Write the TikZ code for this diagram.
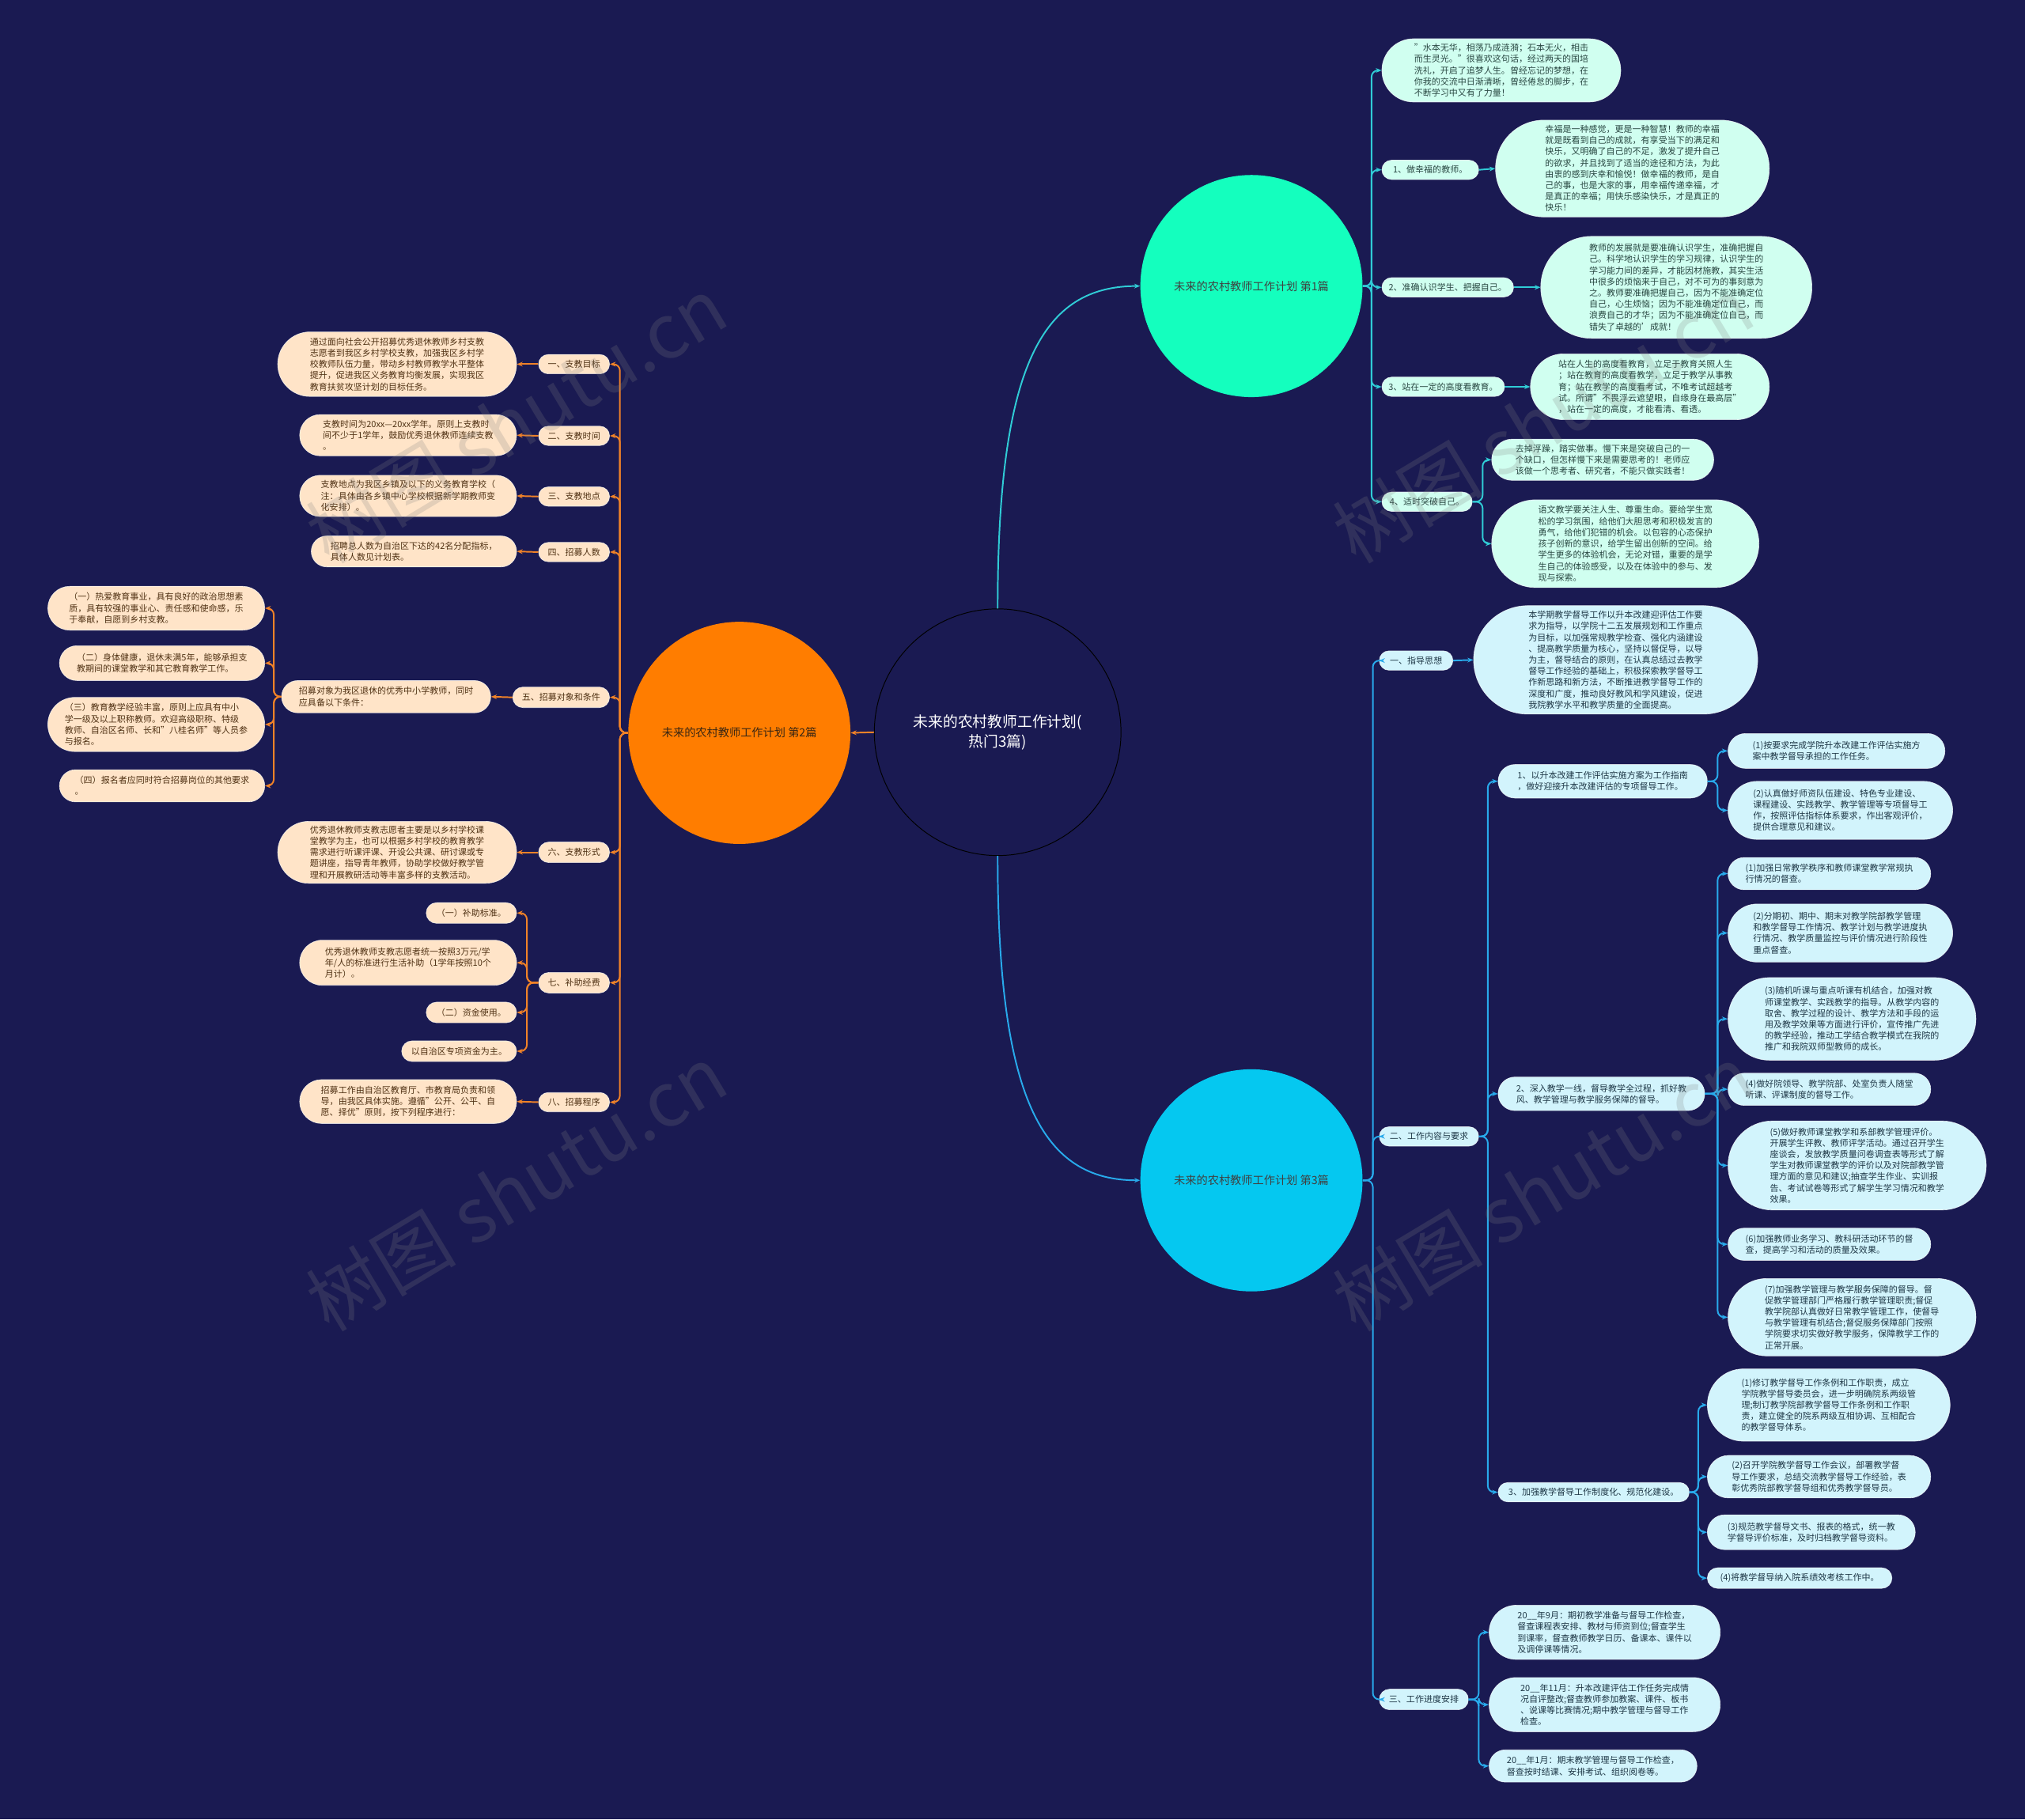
\documentclass[tikz,border=0pt]{standalone}
\usepackage{fontspec}
\setmainfont{Noto Sans CJK SC}
\usetikzlibrary{arrows.meta}
\definecolor{bg}{RGB}{26,26,82}
\definecolor{cA}{RGB}{20,255,190}
\definecolor{cB}{RGB}{5,200,240}
\definecolor{cC}{RGB}{255,125,0}
\definecolor{lA}{RGB}{48,204,214}
\definecolor{lB}{RGB}{40,170,235}
\definecolor{lC}{RGB}{240,130,40}
\definecolor{fA}{RGB}{208,255,240}
\definecolor{tA}{RGB}{40,70,65}
\definecolor{fB}{RGB}{210,244,252}
\definecolor{tB}{RGB}{30,55,70}
\definecolor{fC}{RGB}{255,228,200}
\definecolor{tC}{RGB}{80,50,20}
\newcommand\fsleaf{\fontsize{6.75pt}{8.7pt}\selectfont}
\newcommand\fscirc{\fontsize{8.7pt}{10pt}\selectfont}
\newcommand\fsroot{\fontsize{11.5pt}{15pt}\selectfont}
\newcommand\fswm{\fontsize{58pt}{58pt}\selectfont}
\newcommand\rconn[4]{\draw[#1] (#2.east) -| (#4 |- #3.west) -- (#3.west);}
\newcommand\lconn[4]{\draw[#1] (#2.west) -| (#4 |- #3.east) -- (#3.east);}
\tikzset{
  sz/.style 2 args={minimum width=#1pt, minimum height=#2pt, rounded corners=#2*0.5pt},
  boxbase/.style={inner sep=0pt, align=left, font=\fsleaf, draw=white, draw opacity=0.7, line width=0.4pt},
  leafA/.style={boxbase, fill=fA, text=tA},
  leafB/.style={boxbase, fill=fB, text=tB},
  leafC/.style={boxbase, fill=fC, text=tC},
  lnA/.style={draw=lA, line width=1.2pt, rounded corners=5pt, -{Stealth[length=4.5pt,width=3.6pt]}},
  lnB/.style={draw=lB, line width=1.2pt, rounded corners=5pt, -{Stealth[length=4.5pt,width=3.6pt]}},
  lnC/.style={draw=lC, line width=1.2pt, rounded corners=5pt, -{Stealth[length=4.5pt,width=3.6pt]}},
  wm/.style={rotate=31, font=\fswm, text=gray, opacity=0.22},
}
\begin{document}
\begin{tikzpicture}[x=1pt,y=-1pt]
\fill[bg] (0,0) rectangle (1568,1409);
\useasboundingbox (0,0) rectangle (1568,1409);

% ---------- main nodes ----------
\node[circle, draw=black, line width=0.6pt, fill=bg, minimum size=191pt, inner sep=0pt, text=white, align=center, font=\fsroot] (root) at (772.5,567) {未来的农村教师工作计划(\\热门3篇)};
\node[circle, fill=cA, minimum size=172pt, inner sep=0pt, text=black!75, font=\fscirc] (pA) at (969,221.5) {未来的农村教师工作计划 第1篇};
\node[circle, fill=cB, minimum size=172pt, inner sep=0pt, text=black!75, font=\fscirc] (pB) at (969,914) {未来的农村教师工作计划 第3篇};
\node[circle, fill=cC, minimum size=172pt, inner sep=0pt, text=black!70!brown, font=\fscirc] (pC) at (572.5,567.5) {未来的农村教师工作计划 第2篇};

% ---------- branch 1 ----------
\node[leafA, sz={185}{49}] (a0) at (1162.5,54.5) {"水本无华，相荡乃成涟漪；石本无火，相击\\而生灵光。"很喜欢这句话，经过两天的国培\\洗礼，开启了追梦人生。曾经忘记的梦想，在\\你我的交流中日渐清晰，曾经倦怠的脚步，在\\不断学习中又有了力量！};
\node[leafA, sz={75}{15}] (a1) at (1107.5,131.5) {1、做幸福的教师。};
\node[leafA, sz={212}{75}] (a1l) at (1264,130.5) {幸福是一种感觉，更是一种智慧！教师的幸福\\就是既看到自己的成就，有享受当下的满足和\\快乐，又明确了自己的不足，激发了提升自己\\的欲求，并且找到了适当的途径和方法，为此\\由衷的感到庆幸和愉悦！做幸福的教师，是自\\己的事，也是大家的事，用幸福传递幸福，才\\是真正的幸福；用快乐感染快乐，才是真正的\\快乐！};
\node[leafA, sz={102}{15}] (a2) at (1121,222.5) {2、准确认识学生、把握自己。};
\node[leafA, sz={210}{79}] (a2l) at (1298,222.5) {教师的发展就是要准确认识学生，准确把握自\\己。科学地认识学生的学习规律，认识学生的\\学习能力间的差异，才能因材施教，其实生活\\中很多的烦恼来于自己，对不可为的事刻意为\\之。教师要准确把握自己，因为不能准确定位\\自己，心生烦恼；因为不能准确定位自己，而\\浪费自己的才华；因为不能准确定位自己，而\\错失了卓越的'成就！};
\node[leafA, sz={95}{15}] (a3) at (1117.5,299.5) {3、站在一定的高度看教育。};
\node[leafA, sz={185}{51}] (a3l) at (1277.5,299.5) {站在人生的高度看教育，立足于教育关照人生\\；站在教育的高度看教学，立足于教学从事教\\育；站在教学的高度看考试，不唯考试超越考\\试。所谓"不畏浮云遮望眼，自缘身在最高层"\\，站在一定的高度，才能看清、看透。};
\node[leafA, sz={70}{15}] (a4) at (1105,388.5) {4、适时突破自己。};
\node[leafA, sz={172}{32}] (a4a) at (1241,356) {去掉浮躁，踏实做事。慢下来是突破自己的一\\个缺口，但怎样慢下来是需要思考的！老师应\\该做一个思考者、研究者，不能只做实践者！};
\node[leafA, sz={207}{68}] (a4b) at (1258.5,421) {语文教学要关注人生、尊重生命。要给学生宽\\松的学习氛围，给他们大胆思考和积极发言的\\勇气，给他们犯错的机会。以包容的心态保护\\孩子创新的意识，给学生留出创新的空间。给\\学生更多的体验机会，无论对错，重要的是学\\生自己的体验感受，以及在体验中的参与、发\\现与探索。};

% ---------- branch 3 ----------
\node[leafB, sz={57}{15}] (b1) at (1096.5,511.5) {一、指导思想};
\node[leafB, sz={220}{84}] (b1l) at (1251,511) {本学期教学督导工作以升本改建迎评估工作要\\求为指导，以学院十二五发展规划和工作重点\\为目标，以加强常规教学检查、强化内涵建设\\、提高教学质量为核心，坚持以督促导，以导\\为主，督导结合的原则，在认真总结过去教学\\督导工作经验的基础上，积极探索教学督导工\\作新思路和新方法，不断推进教学督导工作的\\深度和广度，推动良好教风和学风建设，促进\\我院教学水平和教学质量的全面提高。};
\node[leafB, sz={77}{15}] (b2) at (1106.5,880) {二、工作内容与要求};
\node[leafB, sz={162}{26}] (b21) at (1241,605) {1、以升本改建工作评估实施方案为工作指南\\，做好迎接升本改建评估的专项督导工作。};
\node[leafB, sz={168}{27}] (b21a) at (1422,581.5) {(1)按要求完成学院升本改建工作评估实施方\\案中教学督导承担的工作任务。};
\node[leafB, sz={174}{45}] (b21b) at (1425,627.5) {(2)认真做好师资队伍建设、特色专业建设、\\课程建设、实践教学、教学管理等专项督导工\\作，按照评估指标体系要求，作出客观评价，\\提供合理意见和建议。};
\node[leafB, sz={160}{26}] (b22) at (1240,847) {2、深入教学一线，督导教学全过程，抓好教\\风、教学管理与教学服务保障的督导。};
\node[leafB, sz={157}{25}] (b22a) at (1416.5,676.5) {(1)加强日常教学秩序和教师课堂教学常规执\\行情况的督查。};
\node[leafB, sz={174}{45}] (b22b) at (1425,722.5) {(2)分期初、期中、期末对教学院部教学管理\\和教学督导工作情况、教学计划与教学进度执\\行情况、教学质量监控与评价情况进行阶段性\\重点督查。};
\node[leafB, sz={192}{64}] (b22c) at (1434,789) {(3)随机听课与重点听课有机结合，加强对教\\师课堂教学、实践教学的指导。从教学内容的\\取舍、教学过程的设计、教学方法和手段的运\\用及教学效果等方面进行评价，宣传推广先进\\的教学经验，推动工学结合教学模式在我院的\\推广和我院双师型教师的成长。};
\node[leafB, sz={157}{25}] (b22d) at (1416.5,843.5) {(4)做好院领导、教学院部、处室负责人随堂\\听课、评课制度的督导工作。};
\node[leafB, sz={200}{69}] (b22e) at (1438,902.5) {(5)做好教师课堂教学和系部教学管理评价。\\开展学生评教、教师评学活动。通过召开学生\\座谈会，发放教学质量问卷调查表等形式了解\\学生对教师课堂教学的评价以及对院部教学管\\理方面的意见和建议;抽查学生作业、实训报\\告、考试试卷等形式了解学生学习情况和教学\\效果。};
\node[leafB, sz={157}{25}] (b22f) at (1416.5,963.5) {(6)加强教师业务学习、教科研活动环节的督\\查，提高学习和活动的质量及效果。};
\node[leafB, sz={192}{60}] (b22g) at (1434,1020) {(7)加强教学管理与教学服务保障的督导。督\\促教学管理部门严格履行教学管理职责;督促\\教学院部认真做好日常教学管理工作，使督导\\与教学管理有机结合;督促服务保障部门按照\\学院要求切实做好教学服务，保障教学工作的\\正常开展。};
\node[leafB, sz={148}{15}] (b23) at (1234,1155.5) {3、加强教学督导工作制度化、规范化建设。};
\node[leafB, sz={188}{56}] (b23a) at (1416,1088) {(1)修订教学督导工作条例和工作职责，成立\\学院教学督导委员会，进一步明确院系两级管\\理;制订教学院部教学督导工作条例和工作职\\责，建立健全的院系两级互相协调、互相配合\\的教学督导体系。};
\node[leafB, sz={173}{33}] (b23b) at (1408.5,1143.5) {(2)召开学院教学督导工作会议，部署教学督\\导工作要求，总结交流教学督导工作经验，表\\彰优秀院部教学督导组和优秀教学督导员。};
\node[leafB, sz={161}{27}] (b23c) at (1402.5,1186.5) {(3)规范教学督导文书、报表的格式，统一教\\学督导评价标准，及时归档教学督导资料。};
\node[leafB, sz={143}{16}] (b23d) at (1393.5,1222) {(4)将教学督导纳入院系绩效考核工作中。};
\node[leafB, sz={69}{16}] (b3) at (1102.5,1316) {三、工作进度安排};
\node[leafB, sz={179}{42}] (b3a) at (1242.5,1264) {20\_\_年9月：期初教学准备与督导工作检查，\\督查课程表安排、教材与师资到位;督查学生\\到课率，督查教师教学日历、备课本、课件以\\及调停课等情况。};
\node[leafB, sz={179}{42}] (b3b) at (1242.5,1320) {20\_\_年11月：升本改建评估工作任务完成情\\况自评整改;督查教师参加教案、课件、板书\\、说课等比赛情况;期中教学管理与督导工作\\检查。};
\node[leafB, sz={161}{25}] (b3c) at (1233.5,1367.5) {20\_\_年1月：期末教学管理与督导工作检查，\\督查按时结课、安排考试、组织阅卷等。};

% ---------- branch 2 ----------
\node[leafC, sz={55}{15}] (c1) at (444.5,282) {一、支教目标};
\node[leafC, sz={185}{50}] (c1l) at (307.5,282) {通过面向社会公开招募优秀退休教师乡村支教\\志愿者到我区乡村学校支教，加强我区乡村学\\校教师队伍力量，带动乡村教师教学水平整体\\提升，促进我区义务教育均衡发展，实现我区\\教育扶贫攻坚计划的目标任务。};
\node[leafC, sz={55}{15}] (c2) at (444.5,337.5) {二、支教时间};
\node[leafC, sz={168}{32}] (c2l) at (316,337) {支教时间为20xx—20xx学年。原则上支教时\\间不少于1学年，鼓励优秀退休教师连续支教\\。};
\node[leafC, sz={55}{15}] (c3) at (444.5,384.5) {三、支教地点};
\node[leafC, sz={168}{32}] (c3l) at (316,384) {支教地点为我区乡镇及以下的义务教育学校（\\注：具体由各乡镇中心学校根据新学期教师变\\化安排）。};
\node[leafC, sz={55}{15}] (c4) at (444.5,427.5) {四、招募人数};
\node[leafC, sz={159}{24}] (c4l) at (320.5,427) {招聘总人数为自治区下达的42名分配指标，\\具体人数见计划表。};
\node[leafC, sz={75}{16}] (c5) at (434.5,540) {五、招募对象和条件};
\node[leafC, sz={162}{25}] (c5l) at (299,539.5) {招募对象为我区退休的优秀中小学教师，同时\\应具备以下条件：};
\node[leafC, sz={168}{34}] (c5a) at (121,471) {（一）热爱教育事业，具有良好的政治思想素\\质，具有较强的事业心、责任感和使命感，乐\\于奉献，自愿到乡村支教。};
\node[leafC, sz={159}{27}] (c5b) at (125.5,513.5) {（二）身体健康，退休未满5年，能够承担支\\教期间的课堂教学和其它教育教学工作。};
\node[leafC, sz={168}{42}] (c5c) at (121,561) {（三）教育教学经验丰富，原则上应具有中小\\学一级及以上职称教师。欢迎高级职称、特级\\教师、自治区名师、长和"八桂名师"等人员参\\与报名。};
\node[leafC, sz={159}{25}] (c5d) at (125.5,608.5) {（四）报名者应同时符合招募岗位的其他要求\\。};
\node[leafC, sz={55}{16}] (c6) at (444.5,660) {六、支教形式};
\node[leafC, sz={185}{48}] (c6l) at (307.5,660) {优秀退休教师支教志愿者主要是以乡村学校课\\堂教学为主，也可以根据乡村学校的教育教学\\需求进行听课评课、开设公共课、研讨课或专\\题讲座，指导青年教师，协助学校做好教学管\\理和开展教研活动等丰富多样的支教活动。};
\node[leafC, sz={55}{16}] (c7) at (444.5,761) {七、补助经费};
\node[leafC, sz={70}{16}] (c7a) at (365,707) {（一）补助标准。};
\node[leafC, sz={168}{35}] (c7b) at (316,745.5) {优秀退休教师支教志愿者统一按照3万元/学\\年/人的标准进行生活补助（1学年按照10个\\月计）。};
\node[leafC, sz={70}{16}] (c7c) at (365,784) {（二）资金使用。};
\node[leafC, sz={89}{16}] (c7d) at (355.5,814) {以自治区专项资金为主。};
\node[leafC, sz={55}{15}] (c8) at (444.5,853.5) {八、招募程序};
\node[leafC, sz={168}{34}] (c8l) at (316,853) {招募工作由自治区教育厅、市教育局负责和领\\导，由我区具体实施。遵循"公开、公平、自\\愿、择优"原则，按下列程序进行：};

% ---------- spine coordinates ----------
\coordinate (sA) at (1062,0);
\coordinate (sA4) at (1148,0);
\coordinate (sB) at (1063,0);
\coordinate (sB2) at (1152,0);
\coordinate (sB21) at (1330,0);
\coordinate (sB23) at (1315,0);
\coordinate (sB3) at (1145,0);
\coordinate (sC) at (480,0);
\coordinate (sC5) at (212,0);
\coordinate (sC7) at (408,0);

% ---------- connectors ----------
\draw[lnA] (root.north) .. controls +(0,-190) and +(-75,0) .. (pA.west);
\draw[lnB] (root.south) .. controls +(0,190) and +(-75,0) .. (pB.west);
\draw[lnC] (root.west) -- (pC.east);

\foreach \c in {a0,a1,a2,a3,a4} {\rconn{lnA}{pA}{\c}{sA}}
\draw[lnA] (a1.east) -- (a1l.west);
\draw[lnA] (a2.east) -- (a2l.west);
\draw[lnA] (a3.east) -- (a3l.west);
\foreach \c in {a4a,a4b} {\rconn{lnA}{a4}{\c}{sA4}}

\foreach \c in {b1,b2,b3} {\rconn{lnB}{pB}{\c}{sB}}
\draw[lnB] (b1.east) -- (b1l.west);
\foreach \c in {b21,b22,b23} {\rconn{lnB}{b2}{\c}{sB2}}
\foreach \c in {b21a,b21b} {\rconn{lnB}{b21}{\c}{sB21}}
\foreach \c in {b22a,b22b,b22c,b22d,b22e,b22f,b22g} {\rconn{lnB}{b22}{\c}{sB21}}
\foreach \c in {b23a,b23b,b23c,b23d} {\rconn{lnB}{b23}{\c}{sB23}}
\foreach \c in {b3a,b3b,b3c} {\rconn{lnB}{b3}{\c}{sB3}}

\foreach \c in {c1,c2,c3,c4,c5,c6,c7,c8} {\lconn{lnC}{pC}{\c}{sC}}
\draw[lnC] (c1.west) -- (c1l.east);
\draw[lnC] (c2.west) -- (c2l.east);
\draw[lnC] (c3.west) -- (c3l.east);
\draw[lnC] (c4.west) -- (c4l.east);
\draw[lnC] (c5.west) -- (c5l.east);
\draw[lnC] (c6.west) -- (c6l.east);
\draw[lnC] (c8.west) -- (c8l.east);
\foreach \c in {c5a,c5b,c5c,c5d} {\lconn{lnC}{c5l}{\c}{sC5}}
\foreach \c in {c7a,c7b,c7c,c7d} {\lconn{lnC}{c7}{\c}{sC7}}

% ---------- watermarks ----------
\node[wm] (w1) at (400,325) {树图 shutu.cn};
\node[wm] (w2) at (400,920) {树图 shutu.cn};
\node[wm] (w3) at (1195,325) {树图 shutu.cn};
\node[wm] (w4) at (1195,920) {树图 shutu.cn};
\end{tikzpicture}
\end{document}
